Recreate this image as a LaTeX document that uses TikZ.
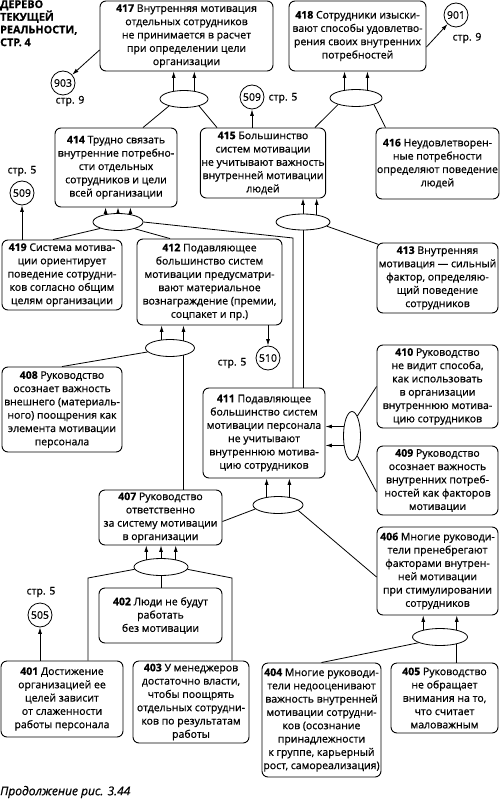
\documentclass[tikz,border=0pt]{standalone}
\usepackage{fontspec}
\setmainfont{Open Sans}[FakeBold=0.6]
\newfontfamily\heavy{Open Sans}[FakeBold=0.7]
\usetikzlibrary{shapes.geometric,arrows.meta}

\begin{document}
\begin{tikzpicture}[x=1pt, y=-1pt,
	box/.style={draw, rounded corners=6pt, line width=0.9pt, align=center, inner sep=1pt, font=\heavy\fontsize{10.5}{13.3}\selectfont},
	oval/.style={draw, ellipse, line width=0.8pt, inner sep=0pt},
	ref/.style={draw, circle, line width=0.8pt, minimum size=24pt, inner sep=0pt, font=\heavy\fontsize{10.5}{12}\selectfont},
	lbl/.style={font=\heavy\fontsize{10.5}{12}\selectfont, inner sep=0pt},
	arr/.style={-{Latex[length=6.5pt,width=4pt]}, line width=0.8pt},
	con/.style={line width=0.8pt}]
	
	\useasboundingbox (0,0) rectangle (500,802);
	
	% Title
	\node [anchor=north west, align=left, inner sep=0pt,
	font=\bfseries\fontsize{10.8}{12.7}\selectfont] (title) at (0,0)
	{ДЕРЕВО\\ТЕКУЩЕЙ\\РЕАЛЬНОСТИ,\\СТР. 4};
	
	% Top row
	\node [box, minimum width=173pt, minimum height=70pt] (n417) at (186.5,36)
	{\textbf{417} Внутренняя мотивация\\отдельных сотрудников\\не принимается в расчет\\при определении цели\\организации};
	
	\node [box, minimum width=137pt, minimum height=70pt] (n418) at (357.5,36)
	{\textbf{418} Сотрудники изыски-\\вают способы удовлетво-\\рения своих внутренних\\потребностей};
	
	\node [ref] (c903) at (63,83) {903};
	\node [lbl] (l903) at (70,101) {стр. 9};
	\node [ref] (c901) at (456,15) {901};
	\node [lbl] (l901) at (467,38) {стр. 9};
	
	\node [oval, minimum width=48pt, minimum height=17pt] (eA) at (184,99) {};
	\node [oval, minimum width=52pt, minimum height=17pt] (e418) at (356,98) {};
	
	\node [ref] (c509t) at (252,97) {509};
	\node [lbl] (l509t) at (283,98) {стр. 5};
	
	% Second row
	\node [box, minimum width=122pt, minimum height=79pt] (n414) at (116,167.5)
	{\textbf{414} Трудно связать\\внутренние потребно-\\сти отдельных\\сотрудников и цели\\всей организации};
	
	\node [box, minimum width=122pt, minimum height=70pt] (n415) at (263,163)
	{\textbf{415} Большинство\\систем мотивации\\не учитывают важность\\внутренней мотивации\\людей};
	
	\node [box, minimum width=121pt, minimum height=71pt] (n416) at (437.5,163.5)
	{\textbf{416} Неудовлетворен-\\ные потребности\\определяют поведение\\людей};
	
	\node [oval, minimum width=50pt, minimum height=17pt] (e414) at (118,222) {};
	\node [oval, minimum width=54pt, minimum height=16pt] (e415) at (303,222) {};
	
	\node [ref] (c509l) at (22,193) {509};
	\node [lbl] (l509l) at (22,171) {стр. 5};
	
	% Third row
	\node [box, minimum width=120pt, minimum height=70pt] (n419) at (62,275)
	{\textbf{419} Система мотива-\\ции ориентирует\\поведение сотрудни-\\ков согласно общим\\целям организации};
	
	\node [box, minimum width=145pt, minimum height=86pt] (n412) at (209.5,282)
	{\textbf{412} Подавляющее\\большинство систем\\мотивации предусматри-\\вают материальное\\вознаграждение (премии,\\соцпакет и пр.)};
	
	\node [box, minimum width=121pt, minimum height=70pt] (n413) at (437.5,278)
	{\textbf{413} Внутренняя\\мотивация — сильный\\фактор, определяю-\\щий поведение\\сотрудников};
	
	\node [oval, minimum width=49pt, minimum height=17pt] (e412) at (170,348) {};
	
	\node [ref] (c510) at (268,358) {510};
	\node [lbl] (l510) at (232,363) {стр. 5};
	
	% Middle
	\node [box, minimum width=120pt, minimum height=85pt] (n408) at (62,409.5)
	{\textbf{408} Руководство\\осознает важность\\внешнего (материаль-\\ного) поощрения как\\элемента мотивации\\персонала};
	
	\node [box, minimum width=121pt, minimum height=83pt] (n410) at (437.5,386.5)
	{\textbf{410} Руководство\\не видит способа,\\как использовать\\в организации\\внутреннюю мотива-\\цию сотрудников};
	
	\node [box, minimum width=122pt, minimum height=90pt] (n411) at (264,433)
	{\textbf{411} Подавляющее\\большинство систем\\мотивации персонала\\не учитывают\\внутреннюю мотива-\\цию сотрудников};
	
	\node [box, minimum width=121pt, minimum height=69pt] (n409) at (437.5,480.5)
	{\textbf{409} Руководство\\осознает важность\\внутренних потреб-\\ностей как факторов\\мотивации};
	
	\node [oval, minimum width=17pt, minimum height=49pt] (e411r) at (352,436) {};
	\node [oval, minimum width=50pt, minimum height=17pt] (e411) at (278,505) {};
	
	% Lower part
	\node [box, minimum width=123pt, minimum height=55pt] (n407) at (160.5,517.5)
	{\textbf{407} Руководство\\ответственно\\за систему мотивации\\в организации};
	
	\node [box, minimum width=121pt, minimum height=88pt] (n406) at (437.5,571)
	{\textbf{406} Многие руководи-\\тели пренебрегают\\факторами внутрен-\\ней мотивации\\при стимулировании\\сотрудников};
	
	\node [oval, minimum width=54pt, minimum height=17pt] (e407) at (161,567) {};
	
	\node [box, minimum width=123pt, minimum height=55pt] (n402) at (160.5,615.5)
	{\textbf{402} Люди не будут\\работать\\без мотивации};
	
	\node [ref] (c505) at (40,615) {505};
	\node [lbl] (l505) at (41,592) {стр. 5};
	
	\node [oval, minimum width=55pt, minimum height=17pt] (e406) at (440,637) {};
	
	% Bottom row
	\node [box, minimum width=122pt, minimum height=76pt] (n401) at (62,699)
	{\textbf{401} Достижение\\организацией ее\\целей зависит\\от слаженности\\работы персонала};
	
	\node [box, minimum width=116pt, minimum height=82pt] (n403) at (191,702)
	{\textbf{403} У менеджеров\\достаточно власти,\\чтобы поощрять\\отдельных сотрудни-\\ков по результатам\\работы};
	
	\node [box, minimum width=119pt, minimum height=114pt] (n404) at (321.5,720)
	{\textbf{404} Многие руководи-\\тели недооценивают\\важность внутренней\\мотивации сотрудни-\\ков (осознание\\принадлежности\\к группе, карьерный\\рост, самореализация)};
	
	\node [box, minimum width=107pt, minimum height=70pt] (n405) at (444.5,698)
	{\textbf{405} Руководство\\не обращает\\внимания на то,\\что считает\\маловажным};
	
	% Caption
	\node [anchor=west, inner sep=0pt, font=\heavy\itshape\fontsize{12}{14}\selectfont] (caption) at (0,792)
	{Продолжение рис. 3.44};
	
	% Corner points
	\coordinate (c411a) at (293,238);
	\coordinate (c401a) at (88,578);
	\coordinate (c403a) at (232,578);
	
	% Connectors, top
	\draw [arr] ([yshift=-14pt]n417.west) -- (c903);
	\draw [arr] ([yshift=-11pt]n418.east) -- (c901);
	\draw [arr] (eA.142) -- (eA.142 |- n417.south);
	\draw [arr] (eA.38) -- (eA.38 |- n417.south);
	\draw [arr] (e418.145) -- (e418.145 |- n418.south);
	\draw [arr] (e418.35) -- (e418.35 |- n418.south);
	\draw [con] (eA.205) -- ([xshift=27pt]n414.north);
	\draw [con] (eA.-25) -- ([xshift=-46pt]n415.north);
	\draw [con] (e418.200) -- ([xshift=52pt]n415.north);
	\draw [con] (e418.-20) -- ([xshift=10pt]n416.north west);
	\draw [arr] (c509t |- n415.north) -- (c509t);
	
	% Connectors, 414 and 415
	\draw [arr] (e414.148) -- (e414.148 |- n414.south);
	\draw [arr] (e414.north) -- (e414.north |- n414.south);
	\draw [arr] (e414.32) -- (e414.32 |- n414.south);
	\draw [con] (e414.200) -- ([xshift=-9pt]n419.north);
	\draw [con] (e414.-22) -- ([xshift=-39.5pt]n412.north);
	\draw [con] (e414.east) -- (c411a) -- (c411a |- n411.north);
	\draw [arr] (c509l |- n419.north) -- (c509l);
	
	\draw [arr] (e415.north) -- (e415.north |- n415.south);
	\draw [arr] (e415.28) -- (e415.28 |- n415.south);
	\draw [con] (e415.-10) -- ([xshift=1.8pt,yshift=-1.8pt]n413.north west);
	\draw [con] (e415.south) -- (e415.south |- n411.north);
	
	% Connectors, 412
	\draw [arr] (e412.135) -- (e412.135 |- n412.south);
	\draw [arr] (e412.29) -- (e412.29 |- n412.south);
	\draw [con] (e412.190) -- (n408.north);
	\draw [con] (e412.-29) -- (e412.-29 |- n407.north);
	\draw [arr] (c510 |- n412.south) -- (c510);
	
	% Connectors, 411
	\draw [arr] (e411r.131) -- (e411r.131 -| n411.east);
	\draw [arr] (e411r.229) -- (e411r.229 -| n411.east);
	\draw [con] (e411r.75) -- (n410.west);
	\draw [con] (e411r.-75) -- ([yshift=-11.5pt]n409.west);
	
	\draw [arr] (e411.145) -- (e411.145 |- n411.south);
	\draw [arr] (e411.35) -- (e411.35 |- n411.south);
	\draw [con] (e411.190) -- ([yshift=-4pt]n407.east);
	\draw [con] (e411.-15) -- ([yshift=-6pt]n406.west);
	
	% Connectors, 407
	\draw [arr] (e407.153) -- (e407.153 |- n407.south);
	\draw [arr] (e407.north) -- (e407.north |- n407.south);
	\draw [arr] (e407.27) -- (e407.27 |- n407.south);
	\draw [con] (e407.185) -- (c401a) -- (c401a |- n401.north);
	\draw [con] (e407.-5) -- (c403a) -- (c403a |- n403.north);
	\draw [con] (e407.south) -- (e407.south |- n402.north);
	\draw [arr] (c505 |- n401.north) -- (c505);
	
	% Connectors, 406
	\draw [arr] (e406.157) -- (e406.157 |- n406.south);
	\draw [arr] (e406.23) -- (e406.23 |- n406.south);
	\draw [con] (e406.195) -- (n404.north);
	\draw [con] (e406.-23) -- (e406.-23 |- n405.north);
	
\end{tikzpicture}
\end{document}
